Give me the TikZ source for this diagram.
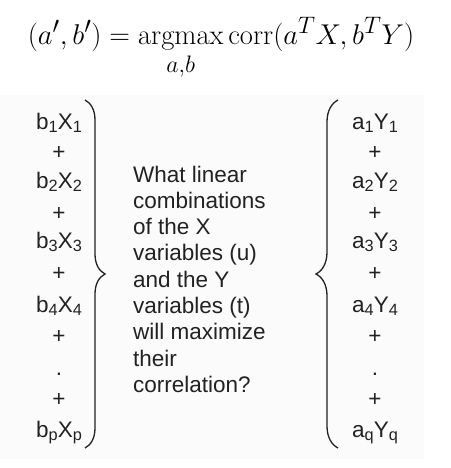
\documentclass[tikz,border=0pt]{standalone}
\usepackage{amsmath}
\usepackage{fontspec}
\newfontfamily\labelfont{Liberation Sans}
\usetikzlibrary{decorations.pathreplacing}

\definecolor{panelgray}{HTML}{FBFBFB}
\definecolor{inkgray}{HTML}{222222}

\newcommand\lowsub[1]{\raisebox{-3.3pt}{\fontsize{16.3}{17}\selectfont #1}}

\tikzset{
  term/.style={anchor=base, inner sep=0pt, text=inkgray,
    font=\labelfont\fontsize{22.5}{27}\selectfont},
  curly/.style={decorate, decoration={brace, amplitude=#1},
    line width=1.3pt, draw=inkgray},
}

\begin{document}
\begin{tikzpicture}[x=1pt,y=-1pt]
  \useasboundingbox (0,0) rectangle (450,468);
  \fill[panelgray] (0,95) rectangle (424,459);

  \node[anchor=base, inner sep=0pt, scale=1.15, transform shape,
    font=\fontsize{24.88}{30}\selectfont] (eq) at (221,45)
    {$\displaystyle (a',b') = \operatorname*{argmax}_{a,b} \operatorname{corr}(a^TX,b^TY)$};

  \node[term] (bx1) at (59,129) {b\lowsub{1}X\lowsub{1}};
  \node[term] (bx2) at (59,188) {b\lowsub{2}X\lowsub{2}};
  \node[term] (bx3) at (59,248) {b\lowsub{3}X\lowsub{3}};
  \node[term] (bx4) at (59,312) {b\lowsub{4}X\lowsub{4}};
  \node[term] (bxp) at (59,437) {b\lowsub{p}X\lowsub{p}};

  \node[term] (ay1) at (375,129) {a\lowsub{1}Y\lowsub{1}};
  \node[term] (ay2) at (375,188) {a\lowsub{2}Y\lowsub{2}};
  \node[term] (ay3) at (375,248) {a\lowsub{3}Y\lowsub{3}};
  \node[term] (ay4) at (375,312) {a\lowsub{4}Y\lowsub{4}};
  \node[term] (ayq) at (375,437) {a\lowsub{q}Y\lowsub{q}};

  \foreach \i/\y in {1/159, 2/220, 3/280, 4/343, 5/406} {
    \node[term] (pl\i) at (59,\y) {+};
    \node[term] (pr\i) at (375,\y) {+};
  }
  \node[term] (dl) at (59,375) {.};
  \node[term] (dr) at (375,375) {.};

  \node[anchor=north west, align=left, inner sep=0pt, text=inkgray,
    font=\labelfont\fontsize{22.5}{26.3}\selectfont] (question) at (133,165.5)
    {What linear\\combinations\\of the X\\variables (u)\\and the Y\\variables (t)\\will maximize\\their\\correlation?};

  \coordinate (lt) at (85,100);
  \coordinate (lb) at (85,448);
  \coordinate (rt) at (338,100);
  \coordinate (rb) at (338,448);
  \draw[curly=20pt] (lt) -- (lb);
  \draw[curly=22pt] (rb) -- (rt);
\end{tikzpicture}
\end{document}
